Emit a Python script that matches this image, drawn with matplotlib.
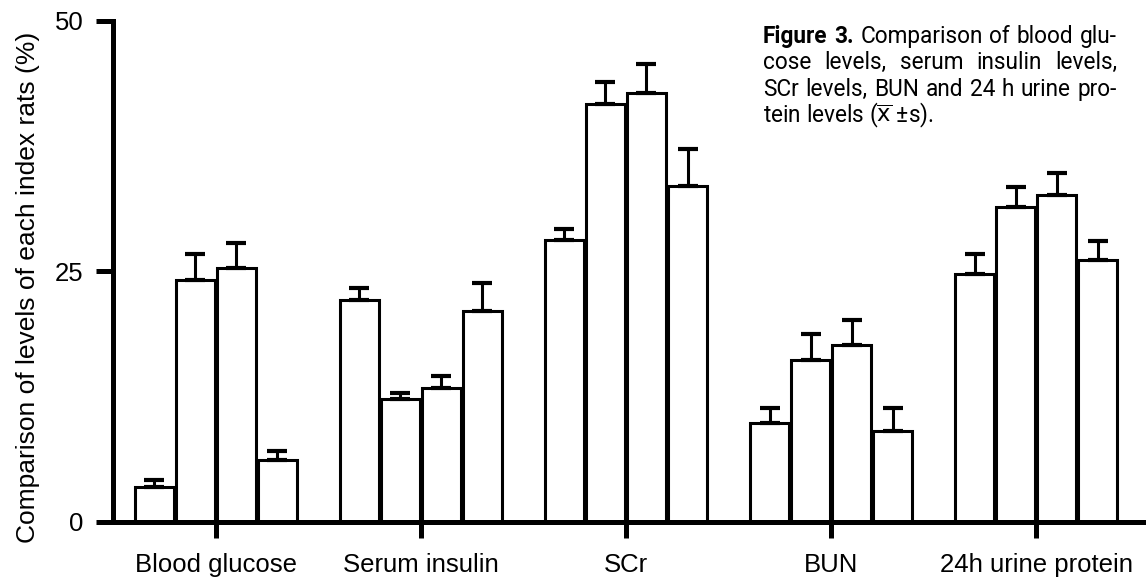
import matplotlib
matplotlib.use("Agg")
import matplotlib.pyplot as plt
from matplotlib import font_manager
import numpy as np

# ---- data ----
categories = ["Blood glucose", "Serum insulin", "SCr", "BUN", "24h urine protein"]
group1 = [3.5, 22.1, 28.1, 9.9, 24.7]
group2 = [24.1, 12.2, 41.7, 16.1, 31.4]
group3 = [25.3, 13.3, 42.8, 17.6, 32.6]
group4 = [6.2, 21.0, 33.5, 9.1, 26.1]
err1 = [0.7, 1.2, 1.1, 1.4, 2.0]
err2 = [2.6, 0.6, 2.2, 2.6, 2.0]
err3 = [2.5, 1.2, 2.9, 2.5, 2.2]
err4 = [0.9, 2.8, 3.7, 2.2, 1.9]
yticks = [0, 25, 50]
ylabel = "Comparison of levels of each index rats (%)"

available = {f.name for f in font_manager.fontManager.ttflist}
main_font = "Liberation Sans" if "Liberation Sans" in available else "DejaVu Sans"
cap_font = None
for cand in ["Liberation Sans Narrow", "Roboto", "Open Sans"]:
    if cand in available:
        cap_font = cand
        break
if cap_font is None:
    cap_font = main_font

plt.rcParams["font.family"] = [main_font, "DejaVu Sans"]

W, H = 1148, 577
fig = plt.figure(figsize=(W / 100, H / 100), dpi=100)
ax = fig.add_axes([113 / W, (H - 521.7) / H, 1030 / W, (521.7 - 20.7) / H])

x = np.arange(len(categories))
series = [group1, group2, group3, group4]
errs = [err1, err2, err3, err4]
offsets = [-0.3, -0.1, 0.1, 0.3]
bw = 0.19
for vals, e, off in zip(series, errs, offsets):
    ax.bar(x + off, vals, width=bw, color="white", edgecolor="black",
           linewidth=2.2, zorder=2)
    ax.errorbar(x + off, vals, yerr=[np.zeros(len(vals)), e], fmt="none",
                ecolor="black", elinewidth=2.2, capsize=7, capthick=3.0,
                zorder=3)

ax.set_xlim(-0.5, 4.52)
ax.set_ylim(0, 50)
ax.set_yticks(yticks)
ax.set_xticks(x)
ax.set_xticklabels(categories, fontsize=18.5)
ax.tick_params(axis="y", labelsize=18.5, length=12, width=3.6, pad=9, direction="out")
ax.tick_params(axis="x", length=11.5, width=3.6, pad=11, direction="out")
for s in ["top", "right"]:
    ax.spines[s].set_visible(False)
for s in ["left", "bottom"]:
    ax.spines[s].set_linewidth(3.6)
    ax.spines[s].set_capstyle("projecting")
ax.set_ylabel(ylabel, fontsize=19)
ax.yaxis.set_label_coords(-0.071, 0.468)

# ---- justified caption ----
cap_lines = [
    [("Figure", "bold"), ("3.", "bold"), ("Comparison", "normal"), ("of", "normal"),
     ("blood", "normal"), ("glu-", "normal")],
    [("cose", "normal"), ("levels,", "normal"), ("serum", "normal"), ("insulin", "normal"),
     ("levels,", "normal")],
    [("SCr", "normal"), ("levels,", "normal"), ("BUN", "normal"), ("and", "normal"),
     ("24", "normal"), ("h", "normal"), ("urine", "normal"), ("pro-", "normal")],
]
last_line = r"tein levels ($\overline{\mathrm{x}}$ ±s)."
x0, x1 = 763, 1117
baselines = [42.7, 69.3, 96.0, 122.7]
fam = [cap_font, "DejaVu Sans"]

renderer = fig.canvas.get_renderer()
# fit font size so that the third line (natural spacing) fills the column
probe = fig.text(0, 0, "SCr levels, BUN and 24 h urine pro-", fontsize=14, family=fam)
pw = probe.get_window_extent(renderer).width
probe.remove()
cap_size = min(16.5, 14 * (x1 - x0) / pw * 0.985)

for words, yb in zip(cap_lines, baselines[:3]):
    objs = []
    for wtxt, wt in words:
        t = fig.text(0, 1 - yb / H, wtxt, fontsize=cap_size, fontweight=wt,
                     family=fam, va="baseline", ha="left")
        objs.append(t)
    widths = [t.get_window_extent(renderer).width for t in objs]
    gap = (x1 - x0 - sum(widths)) / (len(objs) - 1)
    cur = x0
    for t, wd in zip(objs, widths):
        t.set_x(cur / W)
        cur += wd + gap
fig.text(x0 / W, 1 - baselines[3] / H, last_line, fontsize=cap_size,
         family=fam, va="baseline", ha="left")

fig.savefig("out.png", dpi=100)
